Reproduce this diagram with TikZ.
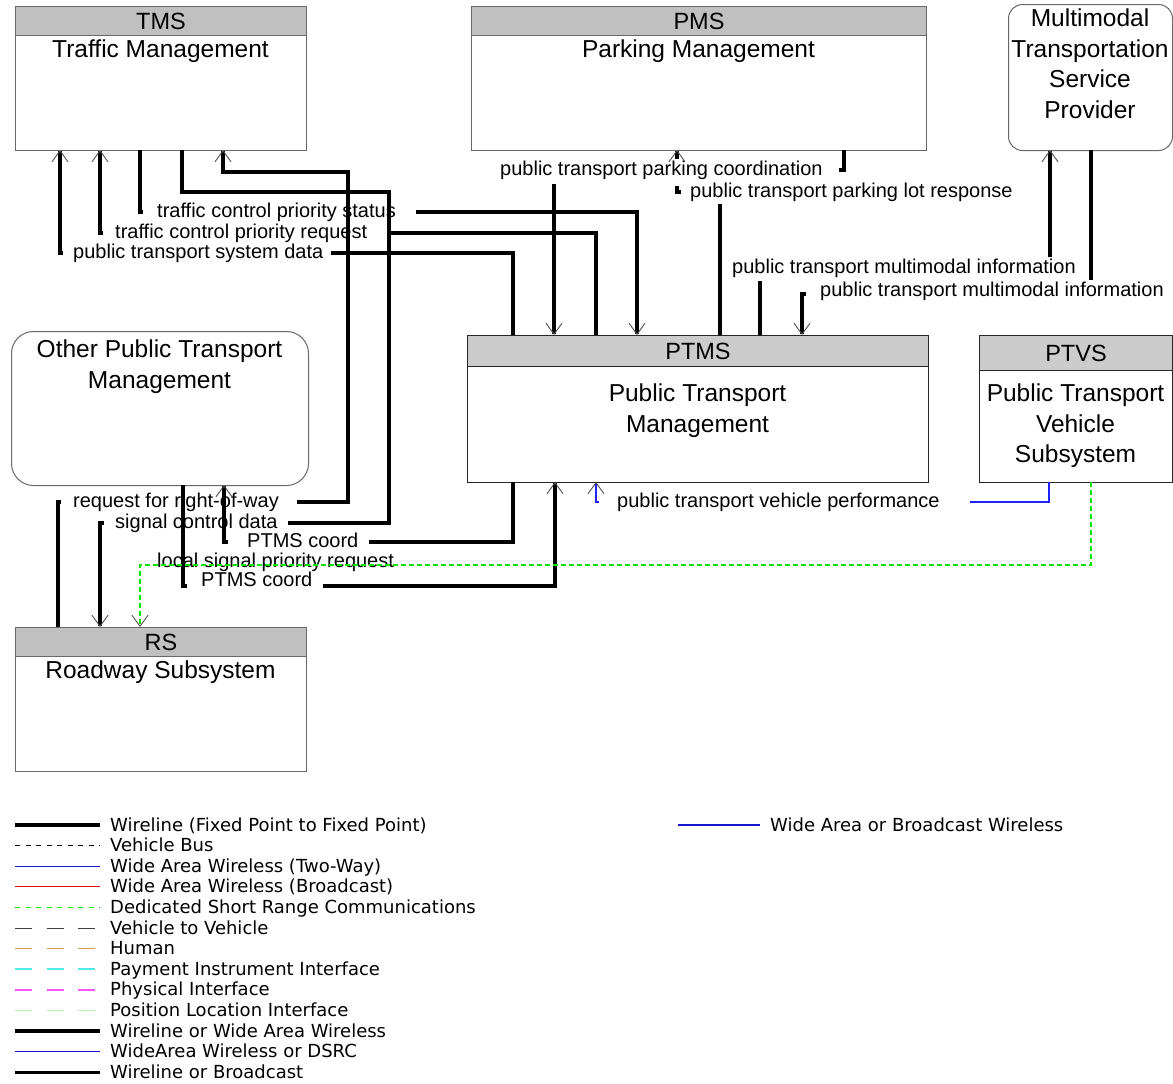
\documentclass[tikz,border=0pt]{standalone}
\usepackage{fontspec}
\setmainfont{Liberation Sans}
\newfontfamily\legfont{DejaVu Sans}
\usetikzlibrary{arrows.meta,calc}
\definecolor{hdrA}{HTML}{C0C0C0}
\definecolor{hdrB}{HTML}{CCCCCC}
\definecolor{bord}{HTML}{686868}
\definecolor{wblue}{HTML}{2020F8}
\definecolor{dgreen}{HTML}{00E800}
\definecolor{tipc}{HTML}{505050}
\definecolor{human}{HTML}{D4A050}
\definecolor{paycyan}{HTML}{50E8E8}
\definecolor{physmag}{HTML}{FF55FF}
\definecolor{posgreen}{HTML}{B8F0B8}
\definecolor{legred}{HTML}{E01010}
\definecolor{legblue}{HTML}{1818D0}
\definecolor{v2v}{HTML}{404040}
\begin{document}
\begin{tikzpicture}[x=1pt,y=-1pt,
  box/.style={draw=bord, line width=1pt, fill=white, anchor=north west, inner sep=0pt},
  hdr/.style={draw=bord, line width=1pt, fill=hdrA, anchor=north west, inner sep=0pt, font=\fontsize{23.5}{28}\selectfont},
  btxt/.style={anchor=north, align=center, inner sep=0pt, font=\fontsize{24.5}{30.5}\selectfont},
  lab/.style={anchor=west, inner sep=0pt, text height=14.5pt, text depth=4.2pt, font=\fontsize{20}{24}\selectfont},
  leg/.style={anchor=west, inner sep=0pt, text height=13pt, text depth=1pt, font=\legfont\fontsize{18}{20}\selectfont},
  wire/.style={line width=3.2pt, black},
  waw/.style={line width=1.1pt, wblue},
  dsrc/.style={line width=1.3pt, dgreen, dash pattern=on 5pt off 3pt},
  tipend/.style={-{Straight Barb[length=11pt 0, width=16pt 0, line width=0.9pt 0, color=tipc]}}
]
\useasboundingbox (0,0) rectangle (1173,1084);
\fill[white] (0,0) rectangle (1173,1084);

% ---------- boxes ----------
\node[box, minimum width=291pt, minimum height=144pt] (TMS) at (15,6) {};
\node[hdr, minimum width=291pt, minimum height=29pt] (TMSh) at (15,6) {TMS};
\node[btxt] (TMSt) at (160.5,39.5) {Traffic Management};

\node[box, minimum width=455pt, minimum height=144pt] (PMS) at (471,6) {};
\node[hdr, minimum width=455pt, minimum height=29pt] (PMSh) at (471,6) {PMS};
\node[btxt] (PMSt) at (698.5,39.5) {Parking Management};

\node[box, rounded corners=14pt, minimum width=164pt, minimum height=146pt] (MTSP) at (1008,4) {};
\node[btxt] (MTSPt) at (1090,9) {Multimodal\\Transportation\\Service\\Provider};

\node[box, rounded corners=22pt, minimum width=297pt, minimum height=154pt] (OPTM) at (11,331) {};
\node[btxt] (OPTMt) at (159.5,340) {Other Public Transport\\Management};

\node[box, draw=black!85, minimum width=461pt, minimum height=147pt] (PTMS) at (467,335) {};
\node[hdr, draw=black!85, fill=hdrB, minimum width=461pt, minimum height=31pt] (PTMSh) at (467,335) {PTMS};
\node[btxt] (PTMSt) at (697.5,384) {Public Transport\\Management};

\node[box, draw=black!85, minimum width=193pt, minimum height=147pt] (PTVS) at (979,335) {};
\node[hdr, draw=black!85, fill=hdrB, minimum width=193pt, minimum height=35pt] (PTVSh) at (979,335) {PTVS};
\node[btxt] (PTVSt) at (1075.5,384) {Public Transport\\Vehicle\\Subsystem};

\node[box, minimum width=291pt, minimum height=144pt] (RS) at (15,627) {};
\node[hdr, minimum width=291pt, minimum height=29pt] (RSh) at (15,627) {RS};
\node[btxt] (RSt) at (160.5,661) {Roadway Subsystem};

% ---------- ports ----------
\coordinate (tA) at (60,150);
\coordinate (tB) at (100,150);
\coordinate (tC) at (140,150);
\coordinate (tD) at (182,150);
\coordinate (tE) at (223,150);
\coordinate (mK) at (677,150);
\coordinate (mJ) at (844,150);
\coordinate (sL) at (1050,150);
\coordinate (sM) at (1091,150);
\coordinate (pA) at (513,335);
\coordinate (pJ) at (554,335);
\coordinate (pB) at (596,335);
\coordinate (pC) at (637,335);
\coordinate (pK) at (720,335);
\coordinate (pL) at (760,335);
\coordinate (pM) at (802,335);
\coordinate (pF) at (513,482);
\coordinate (pG) at (555,482);
\coordinate (pI) at (596,482);
\coordinate (oG) at (183,485);
\coordinate (oF) at (224,485);
\coordinate (vI) at (1049,482);
\coordinate (vH) at (1091,482);
\coordinate (rE) at (58,627);
\coordinate (rD) at (100,627);
\coordinate (rH) at (140,627);
\coordinate (bD) at (389,192);
\coordinate (bE) at (348,172);
\coordinate (bH) at (140,565);

% ---------- labels ----------
\node[lab] (LA) at (73,253) {public transport system data};
\node[lab] (LB) at (115,233) {traffic control priority request};
\node[lab] (LC) at (157,212) {traffic control priority status};
\node[lab] (LD) at (115,523) {signal control data};
\node[lab] (LE) at (73,502) {request for right-of-way};
\node[lab] (LF) at (247,542) {PTMS coord};
\node[lab] (LG) at (201,581) {PTMS coord};
\node[lab] (LH) at (157,562) {local signal priority request};
\node[lab] (LI) at (617,502) {public transport vehicle performance};
\node[lab] (LJ) at (500,170) {public transport parking coordination};
\node[lab] (LK) at (690,192) {public transport parking lot response};
\node[lab] (LL) at (732,268) {public transport multimodal information};
\node[lab] (LM) at (820,291) {public transport multimodal information};

% ---------- connectors ----------
% A: PTMS -> TMS
\draw[wire] ([xshift=7pt]LA.east) -| (pA);
\draw[wire,tipend] ($(tA |- LA.west)+(3,0)$) -- (tA |- LA.west) -- (tA);
% B: PTMS -> TMS
\draw[wire] ([xshift=22pt]LB.east) -| (pB);
\draw[wire,tipend] ($(tB |- LB.west)+(3,0)$) -- (tB |- LB.west) -- (tB);
% C: TMS -> PTMS
\draw[wire] (tC) |- ($(tC |- LC.west)+(3,0)$);
\draw[wire,tipend] ([xshift=20pt]LC.east) -| (pC);
% D: TMS -> RS
\draw[wire] (tD) |- (bD) |- ([xshift=10pt]LD.east);
\draw[wire,tipend] ($(rD |- LD.west)+(4,0)$) -- (rD |- LD.west) -- (rD);
% E: RS -> TMS
\draw[wire] (rE) |- ($(rE |- LE.west)+(3,0)$);
\draw[wire,tipend] ([xshift=18pt]LE.east) -| (bE) -| (tE);
% F: PTMS -> Other PTM
\draw[wire] (pF) |- ([xshift=10pt]LF.east);
\draw[wire,tipend] ($(oF |- LF.west)+(4,0)$) -- (oF |- LF.west) -- (oF);
% G: Other PTM -> PTMS
\draw[wire] (oG) |- ($(oG |- LG.west)+(4,5)$);
\draw[wire,tipend] ($(LG.east)+(10,5)$) -| (pG);
% H: PTVS -> RS (DSRC)
\draw[dsrc,tipend] (vH) |- (bH) -- (rH);
% I: PTVS -> PTMS (wide area wireless)
\draw[waw] (vI) |- ([xshift=30pt]LI.east);
\draw[waw,tipend] ($(pI |- LI.west)+(3,0)$) -- (pI |- LI.west) -- (pI);
% J: PMS -> PTMS
\draw[wire] (mJ) |- ([xshift=16pt]LJ.east);
\draw[wire,tipend] ($(pJ |- LJ.south)+(0,4)$) -- (pJ);
% K: PTMS -> PMS
\draw[wire] (pK) -- ($(pK |- LK.south)+(0,2)$);
\draw[wire] ($(mK |- LK.west)+(4,0)$) -- (mK |- LK.west) -- ++(0,-6);
\draw[wire,tipend] ($(mK)+(0,9)$) -- (mK);
% L: PTMS -> MTSP
\draw[wire] (pL) -- ($(pL |- LL.south)+(0,3)$);
\draw[wire,tipend] ($(sL |- LL.north)+(0,-1)$) -- (sL);
% M: MTSP -> PTMS
\draw[wire] (sM) -- ($(sM |- LM.north)+(0,-1)$);
\draw[wire,tipend] ($(pM |- LM.west)+(4,3)$) -- ($(pM |- LM.west)+(0,3)$) -- (pM);

% ---------- legend ----------
\draw[wire] (15,825) -- (100,825);
\node[leg] (g1) at (110,825) {Wireline (Fixed Point to Fixed Point)};
\draw[line width=1pt, black, dash pattern=on 5pt off 5.5pt] (15,845.6) -- (100,845.6);
\node[leg] (g2) at (110,845.6) {Vehicle Bus};
\draw[line width=1.1pt, legblue] (15,866.2) -- (100,866.2);
\node[leg] (g3) at (110,866.2) {Wide Area Wireless (Two-Way)};
\draw[line width=1.1pt, legred] (15,886.8) -- (100,886.8);
\node[leg] (g4) at (110,886.8) {Wide Area Wireless (Broadcast)};
\draw[line width=1.3pt, dgreen, dash pattern=on 5pt off 5.5pt] (15,907.4) -- (100,907.4);
\node[leg] (g5) at (110,907.4) {Dedicated Short Range Communications};
\draw[line width=1pt, v2v, dash pattern=on 17pt off 14.5pt] (15,928) -- (100,928);
\node[leg] (g6) at (110,928) {Vehicle to Vehicle};
\draw[line width=1.3pt, human, dash pattern=on 17pt off 14.5pt] (15,948.6) -- (100,948.6);
\node[leg] (g7) at (110,948.6) {Human};
\draw[line width=1.5pt, paycyan, dash pattern=on 17pt off 14.5pt] (15,969.2) -- (100,969.2);
\node[leg] (g8) at (110,969.2) {Payment Instrument Interface};
\draw[line width=1.5pt, physmag, dash pattern=on 17pt off 14.5pt] (15,989.8) -- (100,989.8);
\node[leg] (g9) at (110,989.8) {Physical Interface};
\draw[line width=1.5pt, posgreen, dash pattern=on 17pt off 14.5pt] (15,1010.4) -- (100,1010.4);
\node[leg] (g10) at (110,1010.4) {Position Location Interface};
\draw[wire] (15,1031) -- (100,1031);
\node[leg] (g11) at (110,1031) {Wireline or Wide Area Wireless};
\draw[line width=1.1pt, legblue] (15,1051.6) -- (100,1051.6);
\node[leg] (g12) at (110,1051.6) {WideArea Wireless or DSRC};
\draw[wire] (15,1072.2) -- (100,1072.2);
\node[leg] (g13) at (110,1072.2) {Wireline or Broadcast};
\draw[line width=1.1pt, legblue] (678,825) -- (760,825);
\node[leg] (g14) at (770,825) {Wide Area or Broadcast Wireless};
\end{tikzpicture}
\end{document}
